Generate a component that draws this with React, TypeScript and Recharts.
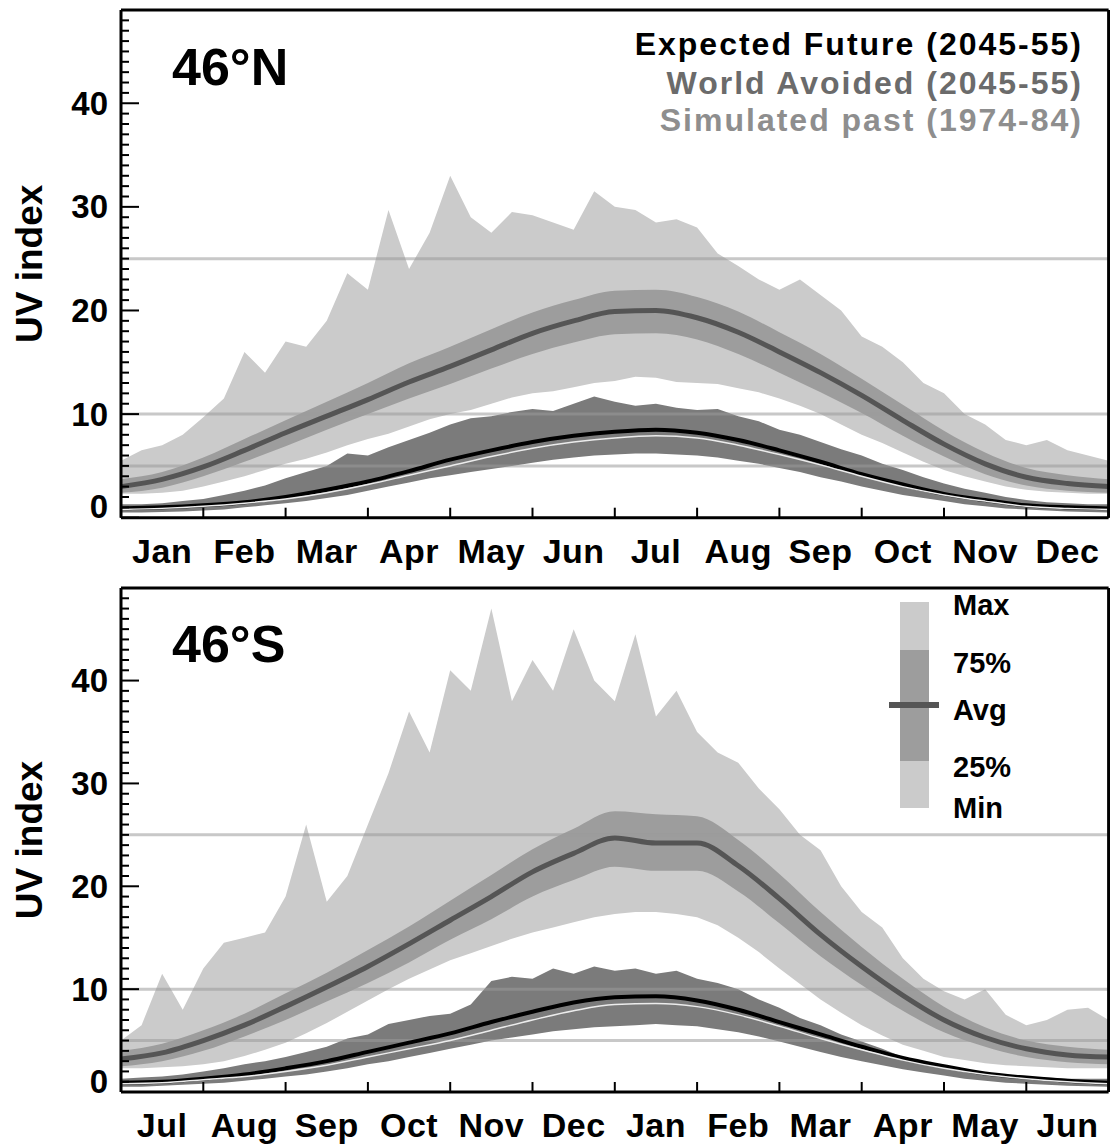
import React from 'react';
import { ComposedChart, Area, Line, XAxis, YAxis, ReferenceLine, Customized } from 'recharts';

const FONT = '"Liberation Sans", Arial, Helvetica, sans-serif';

// x positions in months since the start of the panel's year
const QUARTER_MONTHS = [0, 0.25, 0.5, 0.75, 1, 1.25, 1.5, 1.75, 2, 2.25, 2.5, 2.75, 3, 3.25, 3.5, 3.75, 4, 4.25, 4.5, 4.75, 5, 5.25, 5.5, 5.75, 6, 6.25, 6.5, 6.75, 7, 7.25, 7.5, 7.75, 8, 8.25, 8.5, 8.75, 9, 9.25, 9.5, 9.75, 10, 10.25, 10.5, 10.75, 11, 11.25, 11.5, 11.75, 12];
const HALF_MONTHS = [0, 0.5, 1, 1.5, 2, 2.5, 3, 3.5, 4, 4.5, 5, 5.5, 6, 6.5, 7, 7.5, 8, 8.5, 9, 9.5, 10, 10.5, 11, 11.5, 12];
const MONTH_EDGES = [0, 1, 2, 3, 4, 5, 6, 7, 8, 9, 10, 11, 12];
const MONTHS_N = ['Jan', 'Feb', 'Mar', 'Apr', 'May', 'Jun', 'Jul', 'Aug', 'Sep', 'Oct', 'Nov', 'Dec'];
const MONTHS_S = ['Jul', 'Aug', 'Sep', 'Oct', 'Nov', 'Dec', 'Jan', 'Feb', 'Mar', 'Apr', 'May', 'Jun'];
const Y_TICKS = [0, 1, 2, 3, 4, 5, 6, 7, 8, 9, 10, 11, 12, 13, 14, 15, 16, 17, 18, 19, 20, 21, 22, 23, 24, 25, 26, 27, 28, 29, 30, 31, 32, 33, 34, 35, 36, 37, 38, 39, 40, 41, 42, 43, 44, 45, 46, 47, 48, 49];
const REF_LEVELS = [5, 10, 25];

// ---------- 46°N ----------
const waMaxN = [5.5, 6.5, 7.0, 8.0, 9.7, 11.5, 16.0, 14.0, 17.0, 16.5, 19.0, 23.6, 22.0, 29.7, 24.0, 27.5, 33.0, 29.0, 27.5, 29.5, 29.2, 28.5, 27.8, 31.5, 30.0, 29.7, 28.5, 28.8, 28.0, 25.5, 24.3, 23.0, 22.0, 23.0, 21.5, 20.0, 17.5, 16.5, 15.0, 13.0, 12.0, 10.0, 9.0, 7.5, 7.0, 7.5, 6.5, 6.0, 5.5];
const waMinN = [2.3, 2.3, 2.4, 2.6, 3.0, 3.5, 4.0, 4.6, 5.2, 5.7, 6.3, 7.0, 7.6, 8.1, 8.8, 9.5, 10.0, 10.4, 11.0, 11.6, 12.0, 12.2, 12.6, 13.0, 13.2, 13.6, 13.5, 13.1, 13.0, 12.9, 12.5, 12.1, 11.5, 10.8, 10.0, 9.0, 8.0, 7.2, 6.3, 5.4, 4.6, 4.0, 3.5, 3.0, 2.7, 2.5, 2.4, 2.3, 2.3];
const waQ75N = [3.7, 4.4, 5.8, 7.6, 9.4, 11.2, 13.0, 14.9, 16.5, 18.2, 19.8, 21.0, 21.9, 22.0, 21.3, 19.9, 17.9, 15.8, 13.4, 10.9, 8.4, 6.3, 4.8, 4.1, 3.7];
const waAvgN = [3.0, 3.7, 4.9, 6.5, 8.2, 9.8, 11.4, 13.1, 14.6, 16.2, 17.8, 19.0, 19.9, 20.0, 19.3, 17.9, 16.0, 14.0, 11.8, 9.4, 7.1, 5.2, 3.9, 3.3, 3.0];
const waQ25N = [2.4, 2.9, 4.0, 5.4, 6.9, 8.5, 10.0, 11.5, 12.9, 14.4, 15.8, 16.9, 17.7, 17.8, 17.2, 15.8, 14.0, 12.1, 10.1, 7.9, 5.9, 4.2, 3.1, 2.6, 2.4];
const efMaxN = [1.3, 1.3, 1.4, 1.6, 1.8, 2.2, 2.6, 3.1, 3.8, 4.4, 5.0, 6.2, 6.0, 6.8, 7.5, 8.2, 9.0, 9.6, 9.8, 10.2, 10.5, 10.3, 11.0, 11.7, 11.2, 10.8, 11.0, 10.6, 10.4, 10.5, 9.8, 9.3, 8.5, 8.0, 7.3, 6.6, 6.0, 5.2, 4.6, 3.9, 3.3, 2.8, 2.4, 2.0, 1.7, 1.5, 1.4, 1.3, 1.3];
const efMinN = [0.5, 0.5, 0.55, 0.6, 0.7, 0.8, 1.0, 1.2, 1.4, 1.6, 1.9, 2.2, 2.6, 3.0, 3.4, 3.8, 4.1, 4.4, 4.7, 5.0, 5.3, 5.6, 5.8, 6.0, 6.1, 6.2, 6.2, 6.1, 6.0, 5.8, 5.5, 5.2, 4.8, 4.4, 3.9, 3.5, 3.0, 2.6, 2.2, 1.9, 1.6, 1.3, 1.1, 0.9, 0.8, 0.7, 0.6, 0.55, 0.5];
const efAvgN = [0.9, 1.0, 1.2, 1.5, 2.0, 2.7, 3.5, 4.5, 5.6, 6.5, 7.3, 7.9, 8.3, 8.5, 8.2, 7.5, 6.5, 5.4, 4.2, 3.2, 2.3, 1.7, 1.2, 1.0, 0.9];
const pastAvgN = [0.8, 0.9, 1.1, 1.4, 1.8, 2.4, 3.2, 4.1, 5.0, 5.9, 6.7, 7.3, 7.7, 7.9, 7.7, 7.0, 6.1, 5.1, 4.0, 3.0, 2.2, 1.6, 1.1, 0.9, 0.8];

// ---------- 46°S ----------
const waMaxS = [5.0, 6.5, 11.5, 8.0, 12.0, 14.5, 15.0, 15.5, 19.0, 26.0, 18.5, 21.0, 26.0, 31.0, 37.0, 33.0, 41.0, 39.0, 47.0, 38.0, 42.0, 39.0, 45.0, 40.0, 38.0, 44.5, 36.5, 39.0, 35.0, 33.0, 32.0, 29.5, 27.5, 25.0, 23.5, 20.0, 17.5, 16.0, 13.0, 11.0, 9.8, 9.0, 10.0, 7.5, 6.5, 7.0, 8.0, 8.2, 7.0];
const waMinS = [2.3, 2.3, 2.4, 2.5, 2.7, 3.0, 3.5, 4.1, 4.8, 5.7, 6.7, 7.8, 8.9, 10.0, 11.0, 11.9, 12.8, 13.5, 14.2, 14.9, 15.5, 16.0, 16.5, 17.0, 17.3, 17.5, 17.5, 17.3, 17.0, 16.2, 15.0, 13.6, 12.0, 10.5, 9.0, 7.7, 6.5, 5.5, 4.6, 4.0, 3.4, 3.1, 2.8, 2.6, 2.5, 2.4, 2.3, 2.3, 2.3];
const waQ75S = [4.0, 4.7, 6.0, 7.6, 9.6, 11.6, 13.8, 16.1, 18.6, 21.1, 23.6, 25.6, 27.3, 27.0, 26.8, 24.5, 21.2, 17.5, 14.1, 11.0, 8.3, 6.3, 5.0, 4.4, 4.1];
const waAvgS = [3.2, 3.8, 5.0, 6.5, 8.3, 10.2, 12.2, 14.4, 16.7, 19.0, 21.4, 23.2, 24.7, 24.2, 24.2, 22.0, 18.8, 15.3, 12.2, 9.4, 7.0, 5.3, 4.2, 3.6, 3.4];
const waQ25S = [2.5, 3.0, 4.0, 5.4, 7.0, 8.8, 10.6, 12.6, 14.8, 16.8, 19.0, 20.6, 21.9, 21.5, 21.5, 19.5, 16.4, 13.2, 10.4, 7.9, 5.8, 4.4, 3.4, 2.9, 2.7];
const efMaxS = [1.3, 1.4, 1.5, 1.7, 2.0, 2.3, 2.7, 3.0, 3.4, 3.9, 4.4, 5.2, 5.6, 6.6, 7.0, 7.4, 7.6, 8.5, 10.8, 11.2, 11.0, 12.0, 11.5, 12.2, 11.8, 12.0, 11.5, 11.8, 11.0, 10.6, 10.0, 9.0, 8.2, 7.2, 6.5, 5.6, 4.9, 4.2, 3.4, 2.8, 2.4, 2.0, 1.8, 1.6, 1.5, 1.4, 1.3, 1.3, 1.3];
const efMinS = [0.5, 0.5, 0.6, 0.7, 0.8, 0.9, 1.1, 1.3, 1.5, 1.7, 2.0, 2.3, 2.7, 3.0, 3.4, 3.8, 4.2, 4.6, 5.0, 5.3, 5.6, 5.9, 6.1, 6.3, 6.4, 6.5, 6.6, 6.5, 6.4, 6.1, 5.8, 5.4, 4.9, 4.4, 3.9, 3.4, 3.0, 2.6, 2.2, 1.9, 1.6, 1.3, 1.1, 0.9, 0.8, 0.7, 0.6, 0.55, 0.5];
const efAvgS = [0.9, 1.0, 1.3, 1.7, 2.3, 3.0, 3.9, 4.8, 5.7, 6.8, 7.8, 8.7, 9.2, 9.3, 8.9, 8.0, 6.8, 5.6, 4.4, 3.3, 2.5, 1.8, 1.4, 1.1, 0.9];
const pastAvgS = [0.8, 0.9, 1.2, 1.5, 2.0, 2.6, 3.4, 4.2, 5.0, 6.0, 7.0, 7.9, 8.5, 8.6, 8.3, 7.5, 6.4, 5.2, 4.1, 3.1, 2.3, 1.7, 1.3, 1.0, 0.8];

const LEGEND_LINES = [
  { text: 'Expected Future (2045-55)', color: '#000000' },
  { text: 'World Avoided (2045-55)', color: '#6b6b6b' },
  { text: 'Simulated past (1974-84)', color: '#8e8e8e' },
];
const KEY_LABELS = ['Max', '75%', 'Avg', '25%', 'Min'];

const C = {
  waBand: '#cbcbcb',
  waIqr: '#9d9d9d',
  waAvg: '#555555',
  efBand: '#7b7b7b',
  efAvg: '#000000',
  pastAvg: '#ececec',
  ref: '#9a9a9a',
};

const bandRows = (xs: number[], lo: number[], hi: number[]) => xs.map((m, i) => ({ m, r: [lo[i], hi[i]] }));
const lineRows = (xs: number[], v: number[]) => xs.map((m, i) => ({ m, v: v[i] }));

const LeftTick = (props: any) => {
  const { x, y, payload } = props;
  const v = payload.value;
  const major = v % 10 === 0;
  return (
    <g>
      <line x1={x} x2={x + (major ? 18 : 8)} y1={y} y2={y} stroke="#000" strokeWidth={2} />
      {major && v <= 40 ? (
        <text x={x - 13} y={y + (v === 0 ? -11 : 0)} dy={11.5} textAnchor="end" fontFamily={FONT} fontWeight="bold" fontSize={33} fill="#000">
          {v}
        </text>
      ) : null}
    </g>
  );
};

const RightTick = (props: any) => {
  const { x, y, payload } = props;
  const major = payload.value % 10 === 0;
  return <line x1={x} x2={x - (major ? 18 : 8)} y1={y} y2={y} stroke="#000" strokeWidth={2} />;
};

// bottom axis: integer ticks are month boundaries (tick marks), half ticks carry the month names
const BottomTick = (props: any) => {
  const { x, y, payload, names } = props;
  const v = Number(payload.value);
  if (Number.isInteger(v)) {
    return <line x1={x} x2={x} y1={y} y2={y - 10} stroke="#000" strokeWidth={2} />;
  }
  return (
    <text x={x} y={y + 45} textAnchor="middle" fontFamily={FONT} fontWeight="bold" fontSize={34} letterSpacing={0.5} fill="#000">
      {names[Math.floor(v)]}
    </text>
  );
};

const TopTick = (props: any) => {
  const { x, y } = props;
  return <line x1={x} x2={x} y1={y} y2={y + 10} stroke="#000" strokeWidth={2} />;
};

type PanelProps = {
  top: number;
  height: number;
  margin: { top: number; right: number; bottom: number; left: number };
  title: string;
  titleY: number;
  months: string[];
  waMax: number[]; waMin: number[]; waQ75: number[]; waAvg: number[]; waQ25: number[];
  efMax: number[]; efMin: number[]; efAvg: number[]; pastAvg: number[];
  legend: 'scenarios' | 'key';
};

const Panel = (p: PanelProps) => {
  const plotTop = p.margin.top + 1;
  const plotBottom = p.height - p.margin.bottom - 1;
  const midY = (plotTop + plotBottom) / 2;
  const decorations = () => (
    <g fontFamily={FONT} fontWeight="bold">
      <text x={172} y={p.titleY} fontSize={52} fill="#000">{p.title}</text>
      <text x={42} y={midY} fontSize={37} fill="#000" textAnchor="middle" transform={`rotate(-90 42 ${midY})`}>UV index</text>
      {p.legend === 'scenarios'
        ? LEGEND_LINES.map((l, i) => (
            <text key={l.text} x={1083} y={[55, 94, 131][i]} fontSize={32} letterSpacing={2} textAnchor="end" fill={l.color}>{l.text}</text>
          ))
        : (
          <g>
            <rect x={900} y={32} width={29} height={206} fill={C.waBand} />
            <rect x={900} y={80} width={29} height={111} fill={C.waIqr} />
            <line x1={889} x2={939} y1={135} y2={135} stroke={C.waAvg} strokeWidth={6} />
            {KEY_LABELS.map((k, i) => (
              <text key={k} x={953} y={[45, 103, 150, 207, 248][i]} fontSize={29} fill="#000">{k}</text>
            ))}
          </g>
        )}
    </g>
  );
  return (
    <div style={{ position: 'absolute', left: 0, top: p.top, width: 1110, height: p.height }}>
      <ComposedChart width={1110} height={p.height} margin={p.margin}>
        <XAxis xAxisId={0} dataKey="m" type="number" domain={[0, 12]} ticks={HALF_MONTHS} interval={0} height={1}
          allowDecimals tickSize={0} tickMargin={0} tick={<BottomTick names={p.months} />} axisLine={{ stroke: '#000', strokeWidth: 3 }} />
        <XAxis xAxisId="top" orientation="top" dataKey="m" type="number" domain={[0, 12]} ticks={MONTH_EDGES} interval={0} height={1}
          tickSize={0} tickMargin={0} tick={<TopTick />} axisLine={{ stroke: '#000', strokeWidth: 3 }} />
        <YAxis yAxisId={0} type="number" domain={[0, 49]} ticks={Y_TICKS} interval={0} width={1}
          tickSize={0} tickMargin={0} tick={<LeftTick />} axisLine={{ stroke: '#000', strokeWidth: 3 }} />
        <YAxis yAxisId="r" orientation="right" type="number" domain={[0, 49]} ticks={Y_TICKS} interval={0} width={1}
          tickSize={0} tickMargin={0} tick={<RightTick />} axisLine={{ stroke: '#000', strokeWidth: 3 }} />

        <Area data={bandRows(QUARTER_MONTHS, p.waMin, p.waMax)} dataKey="r" type="linear" fill={C.waBand} fillOpacity={1} stroke="none" isAnimationActive={false} />
        <Area data={bandRows(HALF_MONTHS, p.waQ25, p.waQ75)} dataKey="r" type="monotone" fill={C.waIqr} fillOpacity={1} stroke="none" isAnimationActive={false} />
        <Area data={bandRows(QUARTER_MONTHS, p.efMin, p.efMax)} dataKey="r" type="linear" fill={C.efBand} fillOpacity={1} stroke="none" isAnimationActive={false} />
        {REF_LEVELS.map((lv) => (
          <ReferenceLine key={lv} y={lv} stroke={C.ref} strokeWidth={3} strokeOpacity={0.55} />
        ))}
        <Line data={lineRows(HALF_MONTHS, p.waAvg)} dataKey="v" type="monotone" stroke={C.waAvg} strokeWidth={5} dot={false} isAnimationActive={false} />
        <Line data={lineRows(HALF_MONTHS, p.efAvg)} dataKey="v" type="monotone" stroke={C.efAvg} strokeWidth={4} dot={false} isAnimationActive={false} />
        <Line data={lineRows(HALF_MONTHS, p.pastAvg)} dataKey="v" type="monotone" stroke={C.pastAvg} strokeWidth={1.5} dot={false} isAnimationActive={false} />
        <Customized component={decorations} />
      </ComposedChart>
    </div>
  );
};

export default function App() {
  return (
    <div style={{ position: 'absolute', left: 0, top: 0, width: 1110, height: 1147, background: '#fff' }}>
      <Panel
        top={0} height={570} margin={{ top: 9, right: 0.4, bottom: 51.3, left: 120 }}
        title="46°N" titleY={85} months={MONTHS_N}
        waMax={waMaxN} waMin={waMinN} waQ75={waQ75N} waAvg={waAvgN} waQ25={waQ25N}
        efMax={efMaxN} efMin={efMinN} efAvg={efAvgN} pastAvg={pastAvgN}
        legend="scenarios"
      />
      <Panel
        top={570} height={577} margin={{ top: 17, right: 0.4, bottom: 54, left: 120 }}
        title="46°S" titleY={92} months={MONTHS_S}
        waMax={waMaxS} waMin={waMinS} waQ75={waQ75S} waAvg={waAvgS} waQ25={waQ25S}
        efMax={efMaxS} efMin={efMinS} efAvg={efAvgS} pastAvg={pastAvgS}
        legend="key"
      />
    </div>
  );
}
